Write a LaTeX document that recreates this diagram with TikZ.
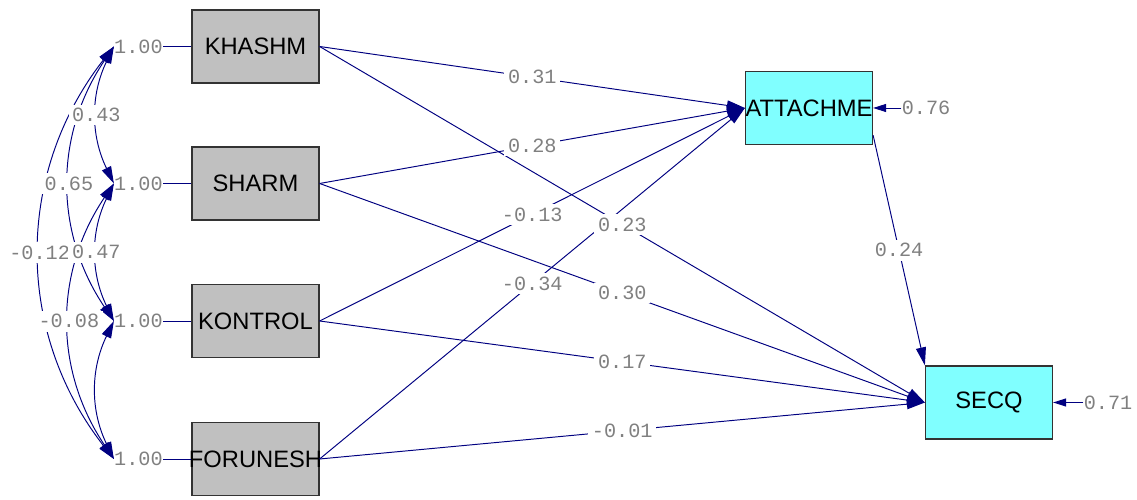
\documentclass[tikz,border=0pt]{standalone}
\usepackage{fontspec}
\setmainfont{Liberation Sans}
\setmonofont{Liberation Mono}
\usetikzlibrary{arrows.meta}
\definecolor{pathblue}{RGB}{0,0,128}
\definecolor{boxgray}{RGB}{192,192,192}
\definecolor{boxcyan}{RGB}{128,255,255}
\definecolor{numgray}{RGB}{128,128,128}
\begin{document}
\begin{tikzpicture}
  \tikzset{
    var/.style={draw=black!80, line width=0.7pt, minimum width=2.54cm, minimum height=1.46cm, inner sep=0pt, font=\fontsize{13.5}{14}\selectfont},
    obs/.style={var, fill=boxgray},
    lat/.style={var, fill=boxcyan},
    num/.style={text=numgray, font=\ttfamily\fontsize{11.5}{12}\selectfont, inner sep=0pt},
    est/.style={num, fill=white, inner sep=2pt},
    link/.style={pathblue, line width=0.55pt},
    effect/.style={link, -{Triangle[length=3.6mm, width=2mm]}},
    resid/.style={link, -{Triangle[length=2.6mm, width=1.6mm]}},
    cov/.style={link, {Triangle[length=3.4mm, width=2mm]}-{Triangle[length=3.4mm, width=2mm]}}
  }
  \useasboundingbox (0,0) rectangle (22.74,10);
  % variables
  \node[obs] (KHASHM) at (5.11,9.07) {KHASHM};
  \node[obs] (SHARM) at (5.11,6.33) {SHARM};
  \node[obs] (KONTROL) at (5.11,3.58) {KONTROL};
  \node[obs] (FORUNESH) at (5.11,0.82) {\makebox[0pt]{FORUNESH}};
  \node[lat] (ATTACHME) at (16.18,7.84) {\makebox[0pt]{ATTACHME}};
  \node[lat] (SECQ) at (19.78,1.95) {SECQ};
  % variances of the exogenous variables
  \node[num] (v1) at (2.77,9.07) {1.00};
  \node[num] (v2) at (2.77,6.33) {1.00};
  \node[num] (v3) at (2.77,3.58) {1.00};
  \node[num] (v4) at (2.77,0.82) {1.00};
  \foreach \v/\x in {v1/KHASHM, v2/SHARM, v3/KONTROL, v4/FORUNESH}
    \draw[link] (\v) -- (\x);
  % paths
  \foreach \from/\to in {KHASHM/ATTACHME, SHARM/ATTACHME, KONTROL/ATTACHME, FORUNESH/ATTACHME,
                         KHASHM/SECQ, SHARM/SECQ, KONTROL/SECQ, FORUNESH/SECQ}
    \draw[effect] (\from.east) -- (\to.west);
  \draw[effect] (ATTACHME.-23) -- (SECQ.north west);
  % covariances
  \foreach \a/\b/\ang in {v1/v2/26, v1/v3/34, v1/v4/38, v2/v3/26, v2/v4/34, v3/v4/26}
    \draw[cov] (\a.west) to[bend right=\ang] (\b.west);
  % estimates
  \foreach \from/\to/\val in {KHASHM/ATTACHME/0.31, SHARM/ATTACHME/0.28, KONTROL/ATTACHME/-0.13,
                              FORUNESH/ATTACHME/-0.34, KHASHM/SECQ/0.23, SHARM/SECQ/0.30,
                              KONTROL/SECQ/0.17, FORUNESH/SECQ/-0.01}
    \path (\from.east) -- (\to.west) node[est, midway] {\val};
  \path (ATTACHME.-23) -- (SECQ.north west) node[est, midway] {0.24};
  \foreach \a/\b/\ang/\val in {v1/v2/26/0.43, v1/v3/34/0.65, v1/v4/38/-0.12, v2/v3/26/0.47, v2/v4/34/-0.08}
    \path (\a.west) to[bend right=\ang] node[est, midway] {\val} (\b.west);
  % residuals
  \node[num] (e1) at (18.52,7.84) {0.76};
  \node[num] (e2) at (22.16,1.95) {0.71};
  \draw[resid] (e1) -- (ATTACHME);
  \draw[resid] (e2) -- (SECQ);
\end{tikzpicture}
\end{document}
